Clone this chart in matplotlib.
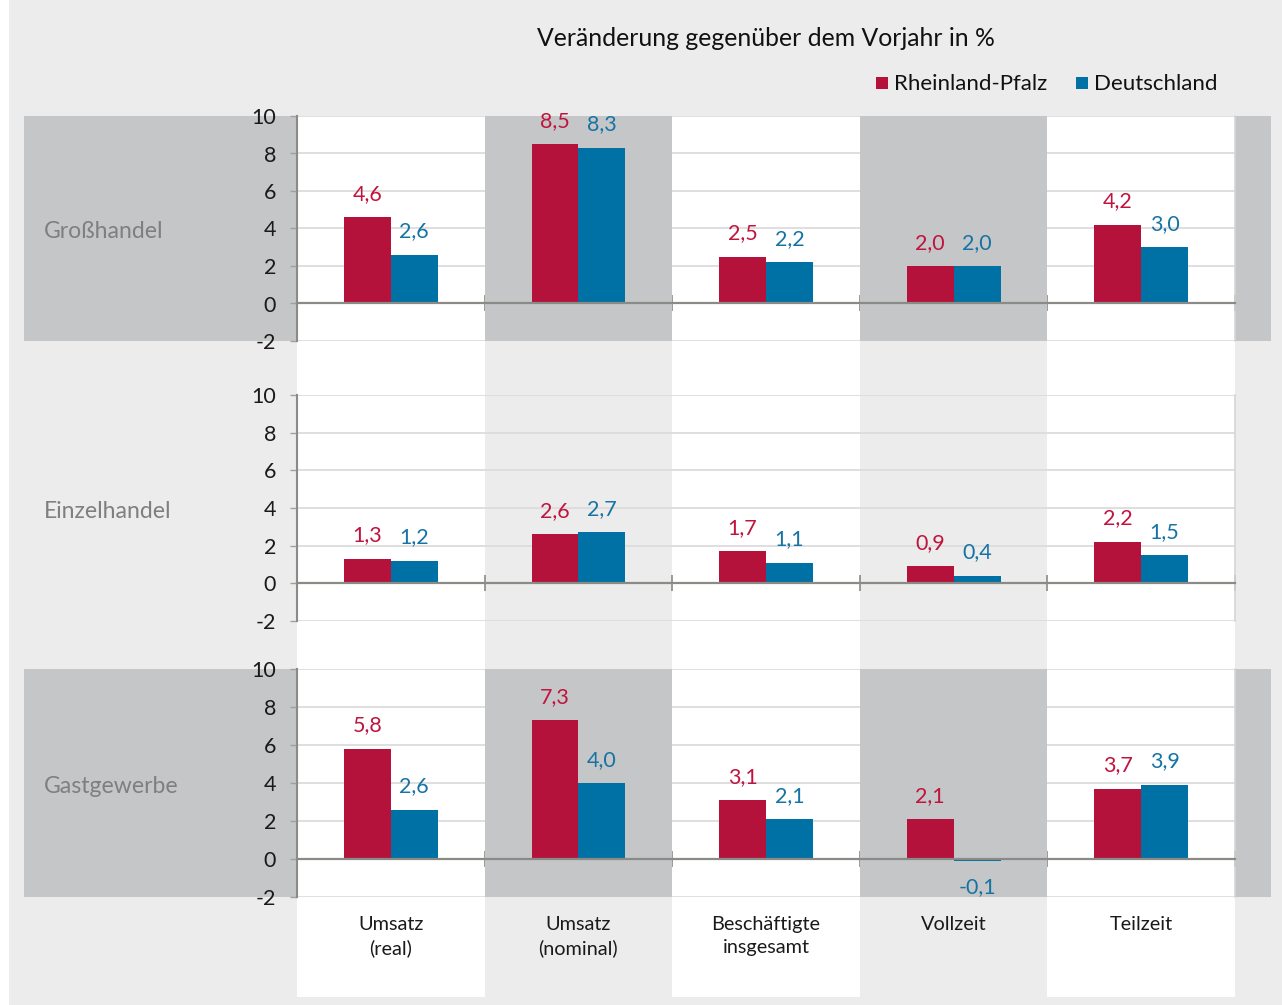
import matplotlib
matplotlib.use("Agg")
import matplotlib.pyplot as plt
from matplotlib.patches import Rectangle

plt.rcParams['font.family'] = ['Lato', 'DejaVu Sans']
plt.rcParams['axes.unicode_minus'] = False

# ---- data ----
categories = ["Umsatz\n(real)", "Umsatz\n(nominal)", "Beschäftigte\ninsgesamt", "Vollzeit", "Teilzeit"]
sectors = ["Großhandel", "Einzelhandel", "Gastgewerbe"]
series_names = ["Rheinland-Pfalz", "Deutschland"]
rp_gross = [4.6, 8.5, 2.5, 2.0, 4.2]
de_gross = [2.6, 8.3, 2.2, 2.0, 3.0]
rp_einzel = [1.3, 2.6, 1.7, 0.9, 2.2]
de_einzel = [1.2, 2.7, 1.1, 0.4, 1.5]
rp_gast = [5.8, 7.3, 3.1, 2.1, 3.7]
de_gast = [2.6, 4.0, 2.1, -0.1, 3.9]
yticks = [-2, 0, 2, 4, 6, 8, 10]
title = "Veränderung gegenüber dem Vorjahr in %"

# ---- style ----
W, H = 1282, 1005
RED, BLUE = '#b5123b', '#0071a4'
RED_T, BLUE_T = '#c0143e', '#1574a3'
BG = '#ebeceb'
BAND = '#c5c6c8'
AXIS = '#8a8a86'
GRID = '#dcdcdc'
FS = 15.5

fig = plt.figure(figsize=(W / 100, H / 100), dpi=100)
fig.patch.set_facecolor('white')

def fx(px):
    return px / W

def fy(py):
    return 1 - py / H

def frect(x0, y0, x1, y1, color, z):
    fig.patches.append(Rectangle((fx(x0), fy(y1)), fx(x1) - fx(x0), fy(y0) - fy(y1),
                                 transform=fig.transFigure, facecolor=color,
                                 edgecolor='none', zorder=z))

# background structure
frect(9, 0, 1282, 1005, BG, -10)
panel_px = [(116, 341), (395, 621), (669, 897)]
gray_rows = [True, False, True]
for (t, b), g in zip(panel_px, gray_rows):
    if g:
        frect(24, t, 1271, b, BAND, -9)
x_left, x_right = 297, 1235
cw = (x_right - x_left) / 5
for c in (0, 2, 4):
    frect(x_left + c * cw, 116, x_left + (c + 1) * cw, 997, 'white', -8)

# title
fig.text(fx(766), fy(39), title, ha='center', va='center', fontsize=17.8, color='#111111')

# legend (manual)
for (x_sq, x_txt), name, col in zip([(876, 894), (1076, 1094)], series_names, [RED, BLUE]):
    frect(x_sq, 77, x_sq + 12, 89, col, 5)
    fig.text(fx(x_txt), fy(84), name, ha='left', va='center', fontsize=16, color='#111111')

data = [(rp_gross, de_gross), (rp_einzel, de_einzel), (rp_gast, de_gast)]
bw = 0.25
xs = list(range(len(categories)))

for k, ((t, b), (rp, de), sector) in enumerate(zip(panel_px, data, sectors)):
    ax = fig.add_axes([fx(x_left), fy(b), fx(x_right) - fx(x_left), fy(t) - fy(b)])
    ax.patch.set_alpha(0)
    ax.set_xlim(-0.5, 4.5)
    ax.set_ylim(-2, 10)
    ax.set_axisbelow(True)
    ax.yaxis.grid(True, color=GRID, lw=1.3, zorder=0.5)
    if gray_rows[k]:
        for c in (1, 3):
            ax.axvspan(c - 0.5, c + 0.5, color=BAND, lw=0, zorder=0.8)
    ax.bar([x - bw / 2 for x in xs], rp, width=bw, color=RED, zorder=2)
    ax.bar([x + bw / 2 for x in xs], de, width=bw, color=BLUE, zorder=2)
    for x, v in zip(xs, rp):
        ax.annotate(f"{v:.1f}".replace('.', ','), (x - bw / 2, max(v, 0)),
                    xytext=(0, 12.5), textcoords='offset points', ha='center',
                    va='baseline', fontsize=FS, color=RED_T)
    for x, v in zip(xs, de):
        if v >= 0:
            ax.annotate(f"{v:.1f}".replace('.', ','), (x + bw / 2, v),
                        xytext=(0, 12.5), textcoords='offset points', ha='center',
                        va='baseline', fontsize=FS, color=BLUE_T)
        else:
            ax.annotate(f"{v:.1f}".replace('.', ','), (x + bw / 2, v),
                        xytext=(0, -12), textcoords='offset points', ha='center',
                        va='top', fontsize=FS, color=BLUE_T)
    # spines
    ax.spines['top'].set_visible(False)
    ax.spines['right'].set_color('#d6d6d6')
    ax.spines['right'].set_linewidth(1.2)
    ax.spines['left'].set_color(AXIS)
    ax.spines['left'].set_linewidth(1.5)
    ax.spines['bottom'].set_position(('data', 0))
    ax.spines['bottom'].set_color(AXIS)
    ax.spines['bottom'].set_linewidth(1.6)
    ax.spines['bottom'].set_zorder(2.5)
    ax.set_xticks([0.5, 1.5, 2.5, 3.5, 4.5])
    ax.set_xticklabels([])
    ax.tick_params(axis='x', direction='inout', length=11, width=1.2, color=AXIS)
    ax.set_yticks(yticks)
    ax.set_yticklabels([str(v) for v in yticks])
    ax.tick_params(axis='y', direction='out', length=5, width=1.0, color='#a0a0a0',
                   pad=10, labelsize=FS, labelcolor='#1a1a1a')
    # sector label
    fig.text(fx(44), (fy(t) + fy(b)) / 2 - 3 / H, sector, ha='left', va='center',
             fontsize=16.6, color='#7f7f7f')
    if k == 2:
        for x, cat in zip(xs, categories):
            ax.annotate(cat, (x, 0), xycoords=('data', 'axes fraction'),
                        xytext=(0, -14), textcoords='offset points', ha='center',
                        va='top', fontsize=FS - 1.2, color='#1a1a1a', linespacing=1.4)

fig.savefig('out.png', dpi=100, facecolor=fig.get_facecolor())
